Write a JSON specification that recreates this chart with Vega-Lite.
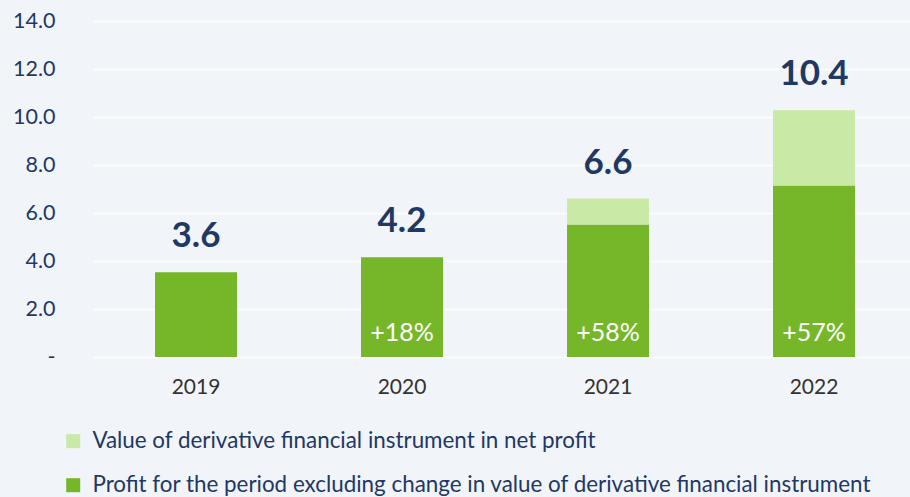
{
  "$schema": "https://vega.github.io/schema/vega-lite/v6.json",
  "width": 817,
  "height": 336,
  "autosize": {"type": "none"},
  "padding": {"left": 93, "top": 21, "right": 0, "bottom": 140},
  "background": "#f1f4f9",
  "config": {
    "view": {"stroke": null},
    "font": "Lato"
  },
  "datasets": {
    "segs": [
      {"year": "2019", "series": "Profit for the period excluding change in value of derivative financial instrument", "seg": 1, "value": 3.53},
      {"year": "2020", "series": "Profit for the period excluding change in value of derivative financial instrument", "seg": 1, "value": 4.16},
      {"year": "2021", "series": "Profit for the period excluding change in value of derivative financial instrument", "seg": 1, "value": 5.52},
      {"year": "2022", "series": "Profit for the period excluding change in value of derivative financial instrument", "seg": 1, "value": 7.15},
      {"year": "2021", "series": "Value of derivative financial instrument in net profit", "seg": 2, "value": 1.08},
      {"year": "2022", "series": "Value of derivative financial instrument in net profit", "seg": 2, "value": 3.13}
    ],
    "totals": [
      {"year": "2019", "top": 3.53, "label": "3.6", "growth": ""},
      {"year": "2020", "top": 4.16, "label": "4.2", "growth": "+18%"},
      {"year": "2021", "top": 6.6, "label": "6.6", "growth": "+58%"},
      {"year": "2022", "top": 10.28, "label": "10.4", "growth": "+57%"}
    ]
  },
  "encoding": {
    "x": {
      "field": "year", "type": "nominal",
      "scale": {"paddingInner": 0.602, "paddingOuter": 0.284, "align": 0.53},
      "axis": {"title": null, "labelAngle": 0, "domain": false, "ticks": false, "labelFontSize": 21, "labelColor": "#333333", "labelPadding": 19}
    }
  },
  "layer": [
    {
      "data": {"name": "segs"},
      "mark": {"type": "bar"},
      "encoding": {
        "y": {
          "field": "value", "type": "quantitative", "stack": "zero",
          "scale": {"domain": [0, 14], "nice": false},
          "axis": {
            "title": null, "values": [0, 2, 4, 6, 8, 10, 12, 14],
            "labelExpr": "datum.value == 0 ? '-' : format(datum.value, '.1f')",
            "domain": false, "ticks": false, "gridColor": "#ffffff", "gridWidth": 1.5, "gridOpacity": 1,
            "labelFontSize": 21.5, "labelColor": "#1f3864", "labelPadding": 38
          }
        },
        "order": {"field": "seg", "type": "quantitative", "sort": "ascending"},
        "color": {
          "field": "series", "type": "nominal",
          "scale": {
            "domain": ["Value of derivative financial instrument in net profit", "Profit for the period excluding change in value of derivative financial instrument"],
            "range": ["#c9e9a6", "#76b72a"]
          },
          "legend": {
            "title": null, "orient": "none", "legendX": -31, "legendY": 409, "direction": "vertical",
            "symbolType": "square", "symbolSize": 196, "symbolStrokeWidth": 0,
            "labelFontSize": 22.4, "labelColor": "#1f3864", "labelLimit": 900, "rowPadding": 21, "labelOffset": 8
          }
        }
      }
    },
    {
      "data": {"name": "totals"},
      "mark": {"type": "text", "fontSize": 35, "fontWeight": "bold", "color": "#1f3864", "baseline": "middle", "dy": -36},
      "encoding": {
        "y": {"field": "top", "type": "quantitative"},
        "text": {"field": "label"}
      }
    },
    {
      "data": {"name": "totals"},
      "mark": {"type": "text", "fontSize": 25, "color": "#ffffff", "baseline": "middle", "dy": -24},
      "encoding": {
        "y": {"datum": 0, "type": "quantitative"},
        "text": {"field": "growth"}
      }
    }
  ]
}
